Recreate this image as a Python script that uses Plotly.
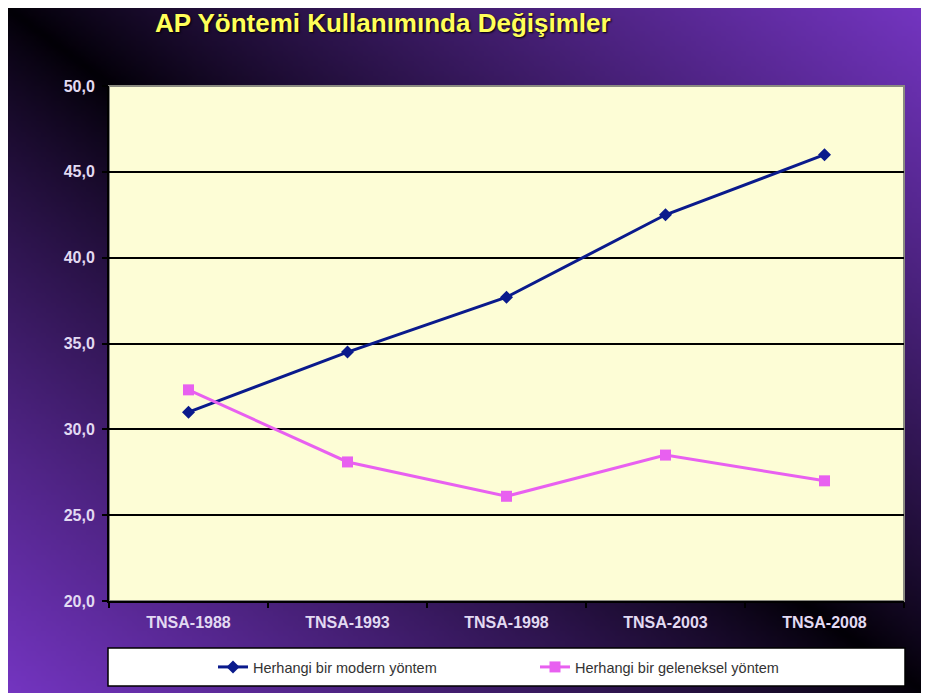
import base64, struct, zlib
import plotly.graph_objects as go

# ---- data ----
categories = ["TNSA-1988", "TNSA-1993", "TNSA-1998", "TNSA-2003", "TNSA-2008"]
modern = [31.0, 34.5, 37.7, 42.5, 46.0]
traditional = [32.3, 28.1, 26.1, 28.5, 27.0]
series_names = ["Herhangi bir modern yöntem", "Herhangi bir geleneksel yöntem"]
title_text = "AP Yöntemi Kullanımında Değişimler"

# ---- background gradient image (decoration) ----
def gradient_png(w=186, h=139):
    dark = (2, 0, 6)
    purple = (118, 54, 196)
    rows = []
    for j in range(h):
        row = bytearray([0])
        fy = j / (h - 1)
        for i in range(w):
            fx = i / (w - 1)
            t = min(1.0, abs(fx - fy))
            t = t ** 0.85
            r = int(dark[0] + (purple[0] - dark[0]) * t)
            g = int(dark[1] + (purple[1] - dark[1]) * t)
            b = int(dark[2] + (purple[2] - dark[2]) * t)
            row += bytes((r, g, b))
        rows.append(bytes(row))
    raw = b"".join(rows)
    def chunk(tag, data):
        c = struct.pack(">I", len(data)) + tag + data
        return c + struct.pack(">I", zlib.crc32(tag + data) & 0xffffffff)
    png = b"\x89PNG\r\n\x1a\n"
    png += chunk(b"IHDR", struct.pack(">IIBBBBB", w, h, 8, 2, 0, 0, 0))
    png += chunk(b"IDAT", zlib.compress(raw, 9))
    png += chunk(b"IEND", b"")
    return "data:image/png;base64," + base64.b64encode(png).decode()

W, H = 929, 693
L, R, T, B = 101, 33, 78, 100
PW, PH = W - L - R, H - T - B

def px(xp):
    return (xp - L) / PW

def py(yp):
    return (H - B - yp) / PH

fig = go.Figure()
fig.add_trace(go.Scatter(
    x=categories, y=modern, name=series_names[0], mode="lines+markers",
    line=dict(color="#0a1a8c", width=3),
    marker=dict(symbol="diamond", size=10, color="#0a1a8c"),
))
fig.add_trace(go.Scatter(
    x=categories, y=traditional, name=series_names[1], mode="lines+markers",
    line=dict(color="#e860f0", width=3),
    marker=dict(symbol="square", size=11, color="#e860f0"),
))

tickfont = dict(family="Liberation Sans, Arial, sans-serif", size=16, color="#e2daf2", weight="bold")

fig.update_layout(
    width=W, height=H,
    margin=dict(l=L, r=R, t=T, b=B, autoexpand=False),
    paper_bgcolor="#000000",
    plot_bgcolor="#fdfdd6",
    separators=",.",
    showlegend=True,
    images=[dict(source=gradient_png(), xref="paper", yref="paper",
                 x=px(0), y=py(0), sizex=px(W + 8) - px(0), sizey=py(0) - py(H + 8),
                 xanchor="left", yanchor="top", sizing="stretch", layer="below")],
    title=dict(text=title_text, x=147 / W, xanchor="left", y=1 - 15 / H, yanchor="middle",
               font=dict(family="Liberation Sans, Arial, sans-serif", size=26, color="#ffff5a",
                         weight="bold", shadow="1px 1px 2px #000")),
    xaxis=dict(
        type="category", range=[-0.5, 4.5], showgrid=False, showline=True,
        linecolor="#000000", linewidth=2, ticks="outside", tickson="boundaries",
        ticklen=5, tickcolor="#000000", tickwidth=2, tickfont=tickfont, mirror=False,
        zeroline=False, ticklabelstandoff=6,
    ),
    yaxis=dict(
        range=[20, 50], dtick=5, tickformat=".1f", showgrid=True, gridcolor="#000000",
        gridwidth=1.5, showline=True, linecolor="#000000", linewidth=2, ticks="outside",
        ticklen=5, tickcolor="#000000", tickwidth=2, tickfont=tickfont, zeroline=False,
        ticklabelstandoff=4,
    ),
    legend=dict(
        orientation="h", x=px(205), xanchor="left", y=py(659), yanchor="middle",
        bgcolor="rgba(0,0,0,0)", borderwidth=0, entrywidth=277,
        font=dict(family="Liberation Sans, Arial, sans-serif", size=14.5, color="#333333"),
    ),
    shapes=[
        dict(type="rect", xref="paper", yref="paper", x0=0, x1=1, y0=0, y1=1,
             line=dict(color="#8a8a80", width=2), fillcolor="#fdfdd6", layer="below"),
        dict(type="rect", xref="paper", yref="paper", x0=px(100), x1=px(897),
             y0=py(678), y1=py(640), line=dict(color="#000000", width=1.5),
             fillcolor="#ffffff", layer="below"),
    ],
)

fig.write_html("out.html")
